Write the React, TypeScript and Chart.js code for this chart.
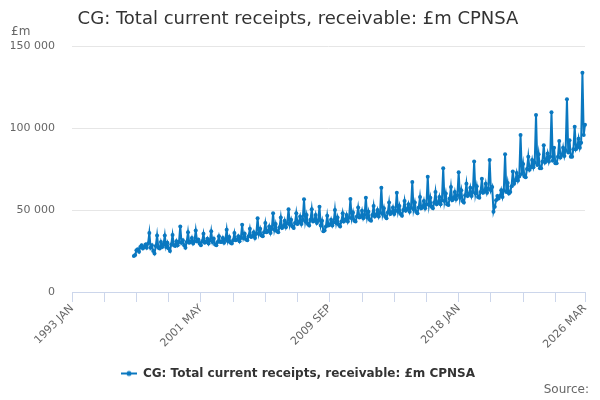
import { useEffect, useRef } from "react";
import { Chart, registerables } from "chart.js";

Chart.register(...registerables);

const TITLE = "CG: Total current receipts, receivable: £m CPNSA";
const SERIES_NAME = "CG: Total current receipts, receivable: £m CPNSA";
const UNIT_LABEL = "£m";
const SOURCE_LABEL = "Source:";

const MONTHS = ["JAN", "FEB", "MAR", "APR", "MAY", "JUN", "JUL", "AUG", "SEP", "OCT", "NOV", "DEC"];
const FIRST_YEAR = 1993;
const LAST_YEAR = 2026;
const LAST_MONTH_INDEX = 2; // MAR

const categories: string[] = [];
for (let y = FIRST_YEAR; y <= LAST_YEAR; y++) {
  for (let m = 0; m < 12; m++) {
    if (y === LAST_YEAR && m > LAST_MONTH_INDEX) break;
    categories.push(`${y} ${MONTHS[m]}`);
  }
}

const DATA_START = "1997 JAN";

// £m, monthly
const v1997 = [22000, 22500, 25500, 26000, 24500, 27500, 28500, 26500, 27500, 29000, 27000, 29500];
const v1998 = [36000, 27000, 28500, 25000, 23500, 28000, 34500, 27000, 26500, 30500, 27500, 29000];
const v1999 = [34500, 27500, 30000, 26500, 25000, 29000, 34800, 28500, 28000, 31000, 28500, 30500];
const v2000 = [40000, 30000, 31500, 28500, 27000, 30500, 36500, 30000, 30500, 33000, 29500, 31000];
const v2001 = [37500, 31000, 32000, 29500, 28500, 31000, 35500, 30000, 30500, 32500, 29500, 31500];
const v2002 = [37000, 30500, 32500, 29000, 28500, 30500, 34000, 30500, 30500, 33000, 30000, 32000];
const v2003 = [38000, 31000, 33500, 30000, 29500, 31500, 36000, 31500, 32000, 34000, 31000, 33000];
const v2004 = [41000, 33000, 35500, 32000, 31500, 34000, 38500, 33500, 34000, 36500, 33000, 35500];
const v2005 = [45000, 35500, 38500, 34500, 34000, 36500, 42000, 36500, 37000, 40000, 36000, 38500];
const v2006 = [48000, 38000, 41500, 37000, 36500, 39500, 45500, 39000, 40000, 43500, 39500, 42000];
const v2007 = [50500, 41000, 44000, 40000, 39000, 42000, 48000, 41500, 42500, 46000, 41500, 44000];
const v2008 = [56500, 43000, 47000, 41500, 40500, 44000, 50500, 43000, 43500, 47000, 42000, 43500];
const v2009 = [52000, 40500, 43500, 37000, 37500, 40000, 46500, 40500, 41000, 44000, 40500, 42500];
const v2010 = [50000, 42000, 45500, 41000, 40000, 43000, 48000, 43000, 44000, 47000, 43000, 45500];
const v2011 = [56700, 45000, 48500, 43500, 43000, 46000, 51500, 45500, 46000, 49500, 45000, 47000];
const v2012 = [57500, 45500, 49000, 44000, 43500, 47000, 52500, 46000, 47000, 50000, 46000, 48500];
const v2013 = [63500, 47500, 51000, 46000, 45000, 48500, 54500, 47500, 48500, 51500, 47500, 49500];
const v2014 = [60500, 49000, 52500, 47500, 46500, 50000, 55500, 49500, 50500, 53500, 49000, 51500];
const v2015 = [67000, 50500, 54500, 49000, 48000, 51500, 58000, 51000, 52000, 55500, 51000, 53500];
const v2016 = [70300, 53000, 57500, 52000, 51000, 54500, 61000, 53500, 54500, 58000, 53500, 56000];
const v2017 = [75400, 55500, 60000, 53500, 53000, 57000, 64000, 56000, 57000, 61000, 56500, 59000];
const v2018 = [73000, 57500, 62000, 55500, 54500, 59000, 66000, 58500, 59500, 63500, 58500, 61000];
const v2019 = [79500, 60000, 64500, 58000, 57500, 61000, 69000, 60500, 61500, 66000, 60500, 63000];
const v2020 = [80500, 62000, 64000, 49000, 52000, 56000, 58500, 57000, 58500, 62000, 58000, 62000];
const v2021 = [84000, 61000, 66500, 60000, 61000, 64500, 73500, 66000, 68000, 72500, 68000, 70500];
const v2022 = [95700, 72000, 78000, 70500, 70000, 75000, 82500, 74500, 76000, 80500, 76000, 79000];
const v2023 = [108000, 77500, 84000, 75500, 75500, 79500, 89500, 79000, 80500, 84500, 79500, 82500];
const v2024 = [109600, 80000, 88000, 78500, 78500, 82500, 92000, 82000, 83500, 88000, 83000, 86500];
const v2025 = [117500, 85000, 92500, 82500, 82500, 87000, 100800, 87000, 88500, 93500, 88000, 91000];
const v2026 = [133700, 95700, 102000];

const observed = [
  ...v1997, ...v1998, ...v1999, ...v2000, ...v2001, ...v2002, ...v2003, ...v2004,
  ...v2005, ...v2006, ...v2007, ...v2008, ...v2009, ...v2010, ...v2011, ...v2012,
  ...v2013, ...v2014, ...v2015, ...v2016, ...v2017, ...v2018, ...v2019, ...v2020,
  ...v2021, ...v2022, ...v2023, ...v2024, ...v2025, ...v2026,
];

const startIndex = categories.indexOf(DATA_START);
const seriesValues: (number | null)[] = [
  ...new Array(startIndex).fill(null),
  ...observed,
];

const Y_TICKS = [0, 50000, 100000, 150000];
const X_TICK_STEP = 25;
const X_LABEL_STEP = 100;

const LINE_COLOR = "#0a78c0";
const FONT = '"DejaVu Sans", sans-serif';

function formatThousands(v: number): string {
  return String(Math.round(v)).replace(/\B(?=(\d{3})+(?!\d))/g, " ");
}

function makeLegendSymbol(): HTMLCanvasElement {
  const c = document.createElement("canvas");
  c.width = 16;
  c.height = 8;
  const ctx = c.getContext("2d")!;
  ctx.strokeStyle = LINE_COLOR;
  ctx.lineWidth = 2;
  ctx.beginPath();
  ctx.moveTo(0, 4);
  ctx.lineTo(16, 4);
  ctx.stroke();
  ctx.fillStyle = LINE_COLOR;
  ctx.beginPath();
  ctx.arc(8, 4, 2.5, 0, Math.PI * 2);
  ctx.fill();
  return c;
}

const extraText = {
  id: "extraText",
  afterDraw(chart: any) {
    const ctx = chart.ctx;
    ctx.save();
    ctx.font = `12px ${FONT}`;
    ctx.fillStyle = "#666666";
    ctx.textBaseline = "middle";
    ctx.textAlign = "left";
    ctx.fillText(UNIT_LABEL, 11, 32);
    ctx.textAlign = "right";
    ctx.fillText(SOURCE_LABEL, 589, 390);
    ctx.restore();
  },
};

export default function App() {
  const canvasRef = useRef<HTMLCanvasElement | null>(null);

  useEffect(() => {
    if (!canvasRef.current) return;
    const symbol = makeLegendSymbol();
    const lastIndex = categories.length - 1;
    const chart = new Chart(canvasRef.current, {
      type: "line",
      data: {
        labels: categories,
        datasets: [
          {
            label: SERIES_NAME,
            data: seriesValues,
            borderColor: LINE_COLOR,
            backgroundColor: LINE_COLOR,
            pointBackgroundColor: LINE_COLOR,
            pointBorderColor: LINE_COLOR,
            pointStyle: "circle",
            pointRadius: 2,
            pointBorderWidth: 0,
            borderWidth: 2,
            tension: 0,
          },
        ],
      },
      options: {
        animation: false,
        responsive: false,
        maintainAspectRatio: false,
        devicePixelRatio: 1,
        layout: { padding: { left: 11, right: 15, top: 0, bottom: 10.5 } },
        plugins: {
          title: {
            display: true,
            text: TITLE,
            color: "#333333",
            font: { family: FONT, size: 18, weight: "normal" as any },
            padding: { top: 9, bottom: 15.4 },
          },
          legend: {
            display: true,
            position: "bottom",
            labels: {
              color: "#333333",
              font: { family: FONT, size: 12, weight: "bold" as any },
              usePointStyle: true,
              pointStyleWidth: 16,
              padding: 10,
              generateLabels: () => [
                {
                  text: SERIES_NAME,
                  pointStyle: symbol as any,
                  fillStyle: LINE_COLOR,
                  strokeStyle: LINE_COLOR,
                  lineWidth: 0,
                  hidden: false,
                  datasetIndex: 0,
                  fontColor: "#333333",
                } as any,
              ],
            },
          },
          tooltip: { enabled: false },
        },
        scales: {
          x: {
            type: "category",
            offset: false,
            afterBuildTicks: (scale: any) => {
              const ticks = [];
              for (let i = 0; i < lastIndex; i += X_TICK_STEP) ticks.push({ value: i });
              ticks.push({ value: lastIndex });
              scale.ticks = ticks;
            },
            afterFit: (scale: any) => {
              scale.height = 65.5;
            },
            grid: {
              display: true,
              drawOnChartArea: false,
              drawTicks: true,
              tickLength: 10,
              color: "#ccd6eb",
            },
            border: { display: true, color: "#ccd6eb", width: 1 },
            ticks: {
              autoSkip: false,
              minRotation: 45,
              maxRotation: 45,
              padding: 0,
              color: "#666666",
              font: { family: FONT, size: 11 },
              callback: (value: any) => {
                const v = Number(value);
                return v % X_LABEL_STEP === 0 || v === lastIndex ? categories[v] : "";
              },
            },
          },
          y: {
            type: "linear",
            min: 0,
            max: 150000,
            afterBuildTicks: (scale: any) => {
              scale.ticks = Y_TICKS.map((v) => ({ value: v }));
            },
            afterFit: (scale: any) => {
              scale.width = 61;
            },
            grid: { color: "#e6e6e6", drawTicks: false, lineWidth: 1 },
            border: { display: false },
            ticks: {
              padding: 17,
              color: "#666666",
              font: { family: FONT, size: 11 },
              callback: (value: any) => formatThousands(Number(value)),
            },
          },
        },
      },
      plugins: [extraText],
    });
    return () => chart.destroy();
  }, []);

  return (
    <div style={{ position: "absolute", left: 0, top: 0, width: 600, height: 400, background: "#fff" }}>
      <canvas ref={canvasRef} width={600} height={400} style={{ width: 600, height: 400 }} />
    </div>
  );
}
